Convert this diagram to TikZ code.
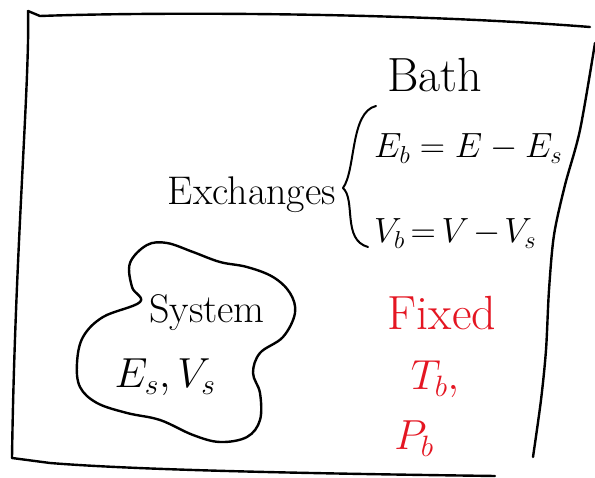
\RequirePackage{fix-cm}
\documentclass[tikz,border=0pt]{standalone}
\usepackage{tikz}
\definecolor{inkred}{RGB}{228,22,34}
\begin{document}
\begin{tikzpicture}[x=1pt,y=-1pt,
  ink/.style={line width=2.4pt,line cap=round,line join=round},
  big/.style={font=\fontsize{40}{44}\selectfont,inner sep=0pt},
  huge/.style={font=\fontsize{48}{52}\selectfont,inner sep=0pt},
  eqn/.style={font=\fontsize{35}{40}\selectfont,inner sep=0pt},
  eqbig/.style={font=\fontsize{42}{46}\selectfont,inner sep=0pt},
  redtxt/.style={text=inkred}]
\useasboundingbox (0,0) rectangle (595,478);
% frame
\draw[ink] (28,11) -- (40,16) .. controls (150,12) and (400,12) .. (590,27);
\draw[ink] plot[smooth,tension=0.5] coordinates {(595,43) (580,130) (565,185) (554,235) (549,290) (546,350) (541,400) (533,457)};
\draw[ink] (28,11) .. controls (30,80) and (15,250) .. (12,458);
\draw[ink] (12,458) -- (50,463) .. controls (150,471) and (350,474) .. (495,476);
% texts
\node[huge,anchor=base] (bath) at (435,92) {Bath};
\node[big,anchor=base east] (exch) at (336,205) {Exchanges};
\coordinate (btop) at (376,106);
\coordinate (bcusp) at (343,188);
\coordinate (bbot) at (368,247);
\draw[ink,line width=2pt] (btop) .. controls (350,112) and (356,170) .. (bcusp)
  .. controls (356,200) and (342,240) .. (bbot);
\node[eqn,anchor=base west] (eqE) at (374,158) {$E_b = E - E_s$};
\node[eqn,anchor=base west] (eqV) at (374,243) {\medmuskip=2mu \thickmuskip=3mu $V_b = V - V_s$};
% system blob
\draw[ink] plot[smooth cycle,tension=0.6] coordinates {(147,245) (167,243) (193,252) (220,262) (247,267) (273,277) (290,293) (295,313) (283,337) (260,353) (253,373) (260,393) (260,420) (247,437) (220,442) (193,435) (160,420) (127,413) (97,403) (80,387) (77,363) (83,337) (103,317) (140,302) (132,287) (130,263)};
\node[big,anchor=base] (sys) at (207,323) {System};
\node[eqbig,anchor=base] (esvs) at (165,388) {$E_s, V_s$};
% fixed
\node[huge,redtxt,anchor=base] (fixed) at (442,330) {Fixed};
\node[eqbig,redtxt,anchor=base] (tb) at (435,390) {$T_b,$};
\node[eqbig,redtxt,anchor=base] (pb) at (414,450) {$P_b$};
\end{tikzpicture}
\end{document}
